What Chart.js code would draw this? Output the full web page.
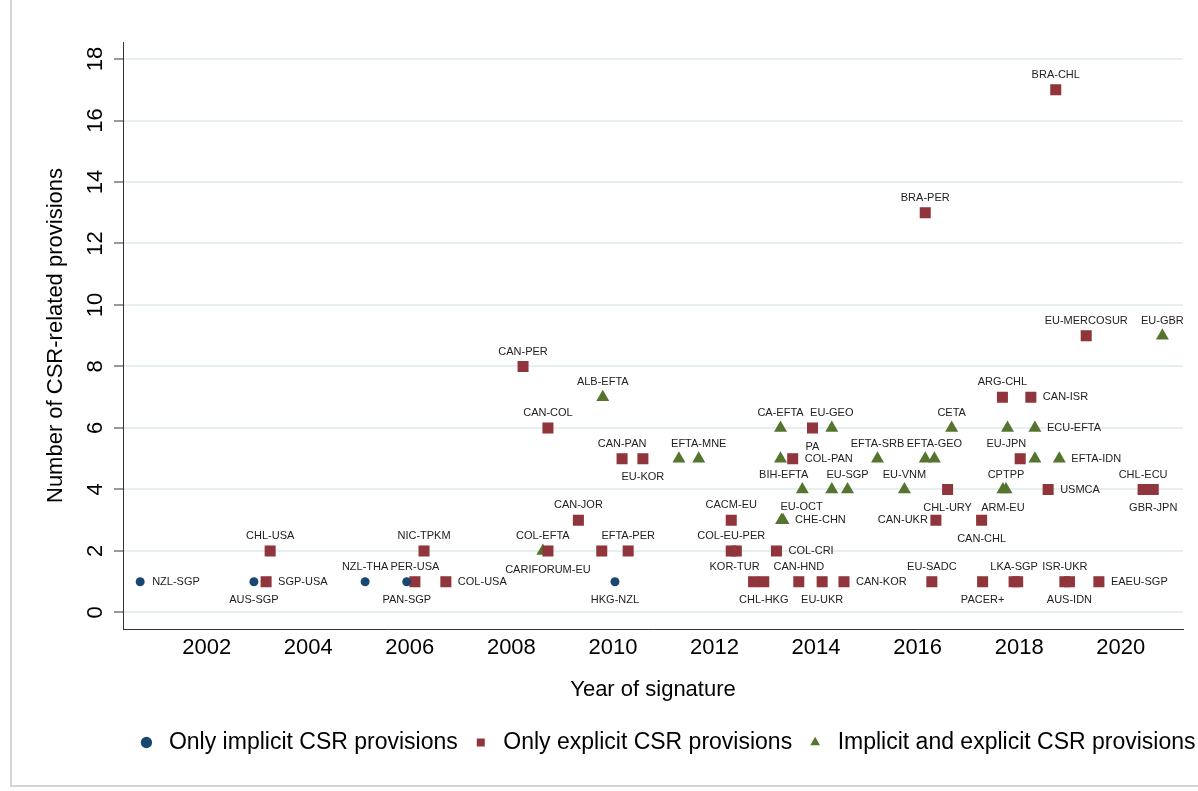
<!DOCTYPE html>
<html lang="en">
<head>
    <meta charset="UTF-8">
    <title>CSR-related provisions by year of signature</title>
    <script src="https://cdn.jsdelivr.net/npm/chart.js"></script>
    <style>
        body { margin: 0; background: #fff; }
        canvas { display: block; }
    </style>
</head>
<body>

<canvas id="csrChart" width="1198" height="791"></canvas>

<script>
    // Only implicit CSR provisions
    const implicitYears  = [2000.69, 2002.93, 2005.12, 2005.94, 2010.04];
    const implicitCounts = [1, 1, 1, 1, 1];
    const implicitNames  = ['NZL-SGP', 'AUS-SGP', 'NZL-THA', 'PAN-SGP', 'HKG-NZL'];
    const implicitPos    = [3, 6, 12, 6, 6];

    // Only explicit CSR provisions
    const explicitYears = [
        2003.17, 2003.25, 2006.10, 2006.28, 2006.71, 2008.23, 2008.72, 2008.72, 2009.32, 2009.78,
        2010.18, 2010.30, 2010.59, 2012.33, 2012.33, 2012.43, 2012.77, 2012.97, 2013.22, 2013.54,
        2013.66, 2013.93, 2014.12, 2014.55, 2016.15, 2016.28, 2016.36, 2016.59, 2017.26, 2017.28,
        2017.67, 2017.90, 2017.97, 2018.02, 2018.23, 2018.57, 2018.72, 2018.90, 2018.99, 2019.32,
        2019.57, 2020.44, 2020.64
    ];
    const explicitCounts = [
        1, 2, 1, 2, 1, 8, 2, 6, 3, 2,
        5, 2, 5, 2, 3, 2, 1, 1, 2, 5,
        1, 6, 1, 1, 13, 1, 3, 4, 3, 1,
        7, 1, 1, 5, 7, 4, 17, 1, 1, 9,
        1, 4, 4
    ];
    const explicitNames = [
        'SGP-USA', 'CHL-USA', 'PER-USA', 'NIC-TPKM', 'COL-USA', 'CAN-PER', 'CARIFORUM-EU', 'CAN-COL', 'CAN-JOR', '',
        'CAN-PAN', 'EFTA-PER', 'EU-KOR', 'COL-EU-PER', 'CACM-EU', '', 'KOR-TUR', 'CHL-HKG', 'COL-CRI', 'COL-PAN',
        'CAN-HND', 'PA', 'EU-UKR', 'CAN-KOR', 'BRA-PER', 'EU-SADC', 'CAN-UKR', 'CHL-URY', 'CAN-CHL', 'PACER+',
        'ARG-CHL', 'LKA-SGP', '', 'EU-JPN', 'CAN-ISR', 'USMCA', 'BRA-CHL', 'ISR-UKR', 'AUS-IDN', 'EU-MERCOSUR',
        'EAEU-SGP', 'CHL-ECU', 'GBR-JPN'
    ];
    const explicitPos = [
        3, 12, 12, 12, 3, 12, 6, 12, 12, 0,
        12, 12, 6, 12, 12, 0, 11, 6, 3, 3,
        12, 6, 6, 3, 12, 12, 9, 6, 6, 6,
        12, 12, 0, 11, 3, 3, 12, 12, 6, 12,
        3, 12, 6
    ];

    // Implicit and explicit CSR provisions
    const bothYears = [
        2008.62, 2009.80, 2011.30, 2011.69, 2013.30, 2013.30, 2013.32, 2013.35, 2013.73, 2014.31,
        2014.31, 2014.62, 2015.21, 2015.74, 2016.15, 2016.33, 2016.67, 2017.68, 2017.74, 2017.77,
        2018.31, 2018.31, 2018.79, 2020.82
    ];
    const bothCounts = [
        2, 7, 5, 5, 6, 5, 3, 3, 4, 6,
        4, 4, 5, 4, 5, 5, 6, 4, 4, 6,
        5, 6, 5, 9
    ];
    const bothNames = [
        'COL-EFTA', 'ALB-EFTA', '', 'EFTA-MNE', 'CA-EFTA', '', 'EU-OCT', 'CHE-CHN', 'BIH-EFTA', 'EU-GEO',
        '', 'EU-SGP', 'EFTA-SRB', 'EU-VNM', '', 'EFTA-GEO', 'CETA', 'ARM-EU', 'CPTPP', '',
        '', 'ECU-EFTA', 'EFTA-IDN', 'EU-GBR'
    ];
    const bothPos = [
        12, 12, 0, 12, 12, 0, 1, 3, 11, 12,
        0, 12, 12, 12, 0, 12, 12, 6, 12, 0,
        0, 3, 3, 12
    ];

    const FONT = "'Liberation Sans', Arial, sans-serif";

    function toPoints(xs, ys) {
        return xs.map((x, i) => ({ x: x, y: ys[i] }));
    }

    // point labels in Stata clock positions
    const pointLabels = {
        id: 'pointLabels',
        afterDatasetsDraw(chart) {
            const ctx = chart.ctx;
            ctx.save();
            ctx.font = '11px ' + FONT;
            ctx.fillStyle = '#222';
            ctx.textBaseline = 'middle';
            chart.data.datasets.forEach((ds, i) => {
                const meta = chart.getDatasetMeta(i);
                meta.data.forEach((pt, j) => {
                    const text = ds.names[j];
                    if (!text) return;
                    const pos = ds.labelPos[j];
                    let x = pt.x, y = pt.y, align = 'center';
                    if (pos === 12) { y -= 15; }
                    else if (pos === 6) { y += 18.5; }
                    else if (pos === 3) { x += 12; align = 'left'; }
                    else if (pos === 9) { x -= 8; align = 'right'; }
                    else if (pos === 11) { x += 6; y -= 15; align = 'right'; }
                    else if (pos === 1) { x -= 1; y -= 13; align = 'left'; }
                    ctx.textAlign = align;
                    ctx.fillText(text, x, y);
                });
            });
            ctx.restore();
        }
    };

    // light outer frame of the graph region
    const frame = {
        id: 'frame',
        beforeDraw(chart) {
            const ctx = chart.ctx;
            ctx.save();
            ctx.fillStyle = '#fff';
            ctx.fillRect(0, 0, chart.width, chart.height);
            ctx.strokeStyle = '#d4d4d4';
            ctx.lineWidth = 2;
            ctx.beginPath();
            ctx.moveTo(11, 0);
            ctx.lineTo(11, 786);
            ctx.lineTo(chart.width, 786);
            ctx.stroke();
            ctx.restore();
        }
    };

    // move the legend row to sit under the plot like the original
    const legendShift = {
        id: 'legendShift',
        afterLayout(chart) {
            chart.legend.left += 74;
            chart.legend.right += 74;
        }
    };

    const ctx = document.getElementById('csrChart').getContext('2d');

    new Chart(ctx, {
        type: 'scatter',
        data: {
            datasets: [
                {
                    label: 'Only implicit CSR provisions',
                    data: toPoints(implicitYears, implicitCounts),
                    names: implicitNames,
                    labelPos: implicitPos,
                    pointStyle: 'circle',
                    pointRadius: 4.5,
                    backgroundColor: 'rgb(26,71,111)',
                    borderWidth: 0
                },
                {
                    label: 'Only explicit CSR provisions',
                    data: toPoints(explicitYears, explicitCounts),
                    names: explicitNames,
                    labelPos: explicitPos,
                    pointStyle: 'rect',
                    pointRadius: 7.8,
                    backgroundColor: 'rgb(144,53,59)',
                    borderWidth: 0
                },
                {
                    label: 'Implicit and explicit CSR provisions',
                    data: toPoints(bothYears, bothCounts),
                    names: bothNames,
                    labelPos: bothPos,
                    pointStyle: 'triangle',
                    pointRadius: 7.5,
                    backgroundColor: 'rgb(85,117,47)',
                    borderWidth: 0
                }
            ]
        },
        options: {
            responsive: false,
            animation: false,
            layout: {
                padding: { top: 42, right: 15, bottom: 27, left: 0 }
            },
            scales: {
                x: {
                    type: 'linear',
                    min: 2000.352,
                    max: 2021.226,
                    afterFit: s => { s.height = 90; },
                    ticks: {
                        stepSize: 2,
                        includeBounds: false,
                        maxRotation: 0,
                        padding: 6,
                        color: '#000',
                        font: { size: 22, family: FONT },
                        callback: v => String(v)
                    },
                    grid: { display: false, drawTicks: false },
                    border: { display: true, color: '#333', width: 1 },
                    title: {
                        display: true,
                        text: 'Year of signature',
                        color: '#000',
                        font: { size: 22, family: FONT },
                        padding: { top: 0, bottom: 16 }
                    }
                },
                y: {
                    min: -0.537,
                    max: 18.553,
                    afterFit: s => { s.width = 123; },
                    ticks: {
                        stepSize: 2,
                        includeBounds: false,
                        minRotation: 90,
                        maxRotation: 90,
                        crossAlign: 'center',
                        padding: 6,
                        color: '#000',
                        font: { size: 22, family: FONT },
                        callback: v => String(v)
                    },
                    grid: {
                        color: '#e6eef1',
                        lineWidth: 2,
                        tickColor: '#333',
                        tickWidth: 1,
                        tickLength: 9
                    },
                    border: { display: true, color: '#333', width: 1 },
                    title: {
                        display: true,
                        text: 'Number of CSR-related provisions',
                        color: '#000',
                        font: { size: 22, family: FONT },
                        padding: { top: 43, bottom: 0 }
                    }
                }
            },
            plugins: {
                legend: {
                    position: 'bottom',
                    labels: {
                        usePointStyle: true,
                        boxWidth: 22,
                        boxHeight: 8,
                        padding: 12,
                        color: '#000',
                        font: { size: 23, family: FONT }
                    }
                },
                tooltip: { enabled: false }
            }
        },
        plugins: [frame, pointLabels, legendShift]
    });
</script>

</body>
</html>
